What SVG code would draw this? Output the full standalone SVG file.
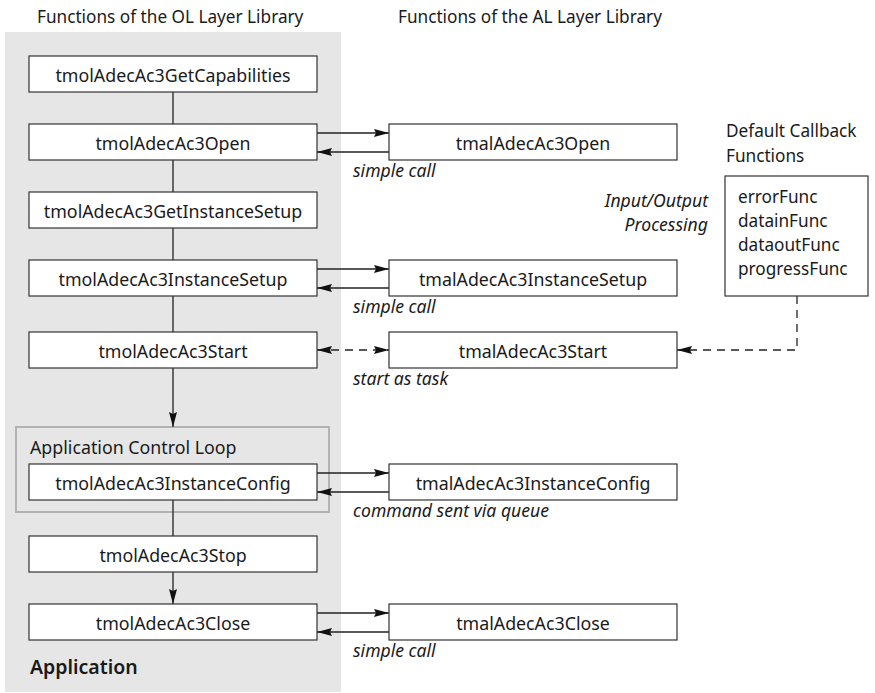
<svg xmlns="http://www.w3.org/2000/svg" width="875" height="693" viewBox="0 0 875 693">
  <style>
    text { font-family: "Noto Sans", "Liberation Sans", sans-serif; fill: #1a1a1a; }
    .hdr { font-size: 17.2px; }
    .lbl { font-size: 17.8px; text-anchor: middle; }
    .note { font-size: 17.6px; font-style: italic; }
    .cb { font-size: 17.2px; }
    .box { fill: #ffffff; stroke: #333333; stroke-width: 1.2; }
    .ln { fill: none; stroke: #222222; stroke-width: 1.3; }
    .dash { fill: none; stroke: #222222; stroke-width: 1.3; stroke-dasharray: 8 6; }
  </style>
  <defs>
    <marker id="ah" markerUnits="userSpaceOnUse" markerWidth="16" markerHeight="9" refX="15" refY="4" orient="auto-start-reverse">
      <path d="M0,0 L15,4 L0,8 L2,4 z" fill="#111111"/>
    </marker>
  </defs>

  <!-- application area -->
  <rect id="app-area" x="5" y="32" width="336" height="660" fill="#e6e6e6"/>
  <text class="hdr" x="37" y="22.5">Functions of the OL Layer Library</text>
  <text class="hdr" x="398" y="22.5">Functions of the AL Layer Library</text>
  <text x="30" y="674" style="font-size:19.5px;font-weight:600">Application</text>

  <!-- control loop frame -->
  <g id="control-loop">
    <rect x="16" y="427" width="313" height="85" fill="none" stroke="#b3b3b3" stroke-width="2"/>
    <text x="30" y="454" style="font-size:17.8px">Application Control Loop</text>
  </g>

  <!-- connectors -->
  <g id="connectors">
    <line class="ln" x1="173" y1="92" x2="173" y2="124"/>
    <line class="ln" x1="173" y1="160" x2="173" y2="192"/>
    <line class="ln" x1="173" y1="228" x2="173" y2="260"/>
    <line class="ln" x1="173" y1="296" x2="173" y2="332"/>
    <line class="ln" x1="173" y1="368" x2="173" y2="427" marker-end="url(#ah)"/>
    <line class="ln" x1="173" y1="500" x2="173" y2="536"/>
    <line class="ln" x1="173" y1="572" x2="173" y2="604" marker-end="url(#ah)"/>

    <line class="ln" x1="317" y1="133" x2="389" y2="133" marker-end="url(#ah)"/>
    <line class="ln" x1="389" y1="152" x2="317" y2="152" marker-end="url(#ah)"/>
    <line class="ln" x1="317" y1="269" x2="389" y2="269" marker-end="url(#ah)"/>
    <line class="ln" x1="389" y1="288" x2="317" y2="288" marker-end="url(#ah)"/>
    <line class="dash" x1="317" y1="350" x2="389" y2="350" marker-start="url(#ah)" marker-end="url(#ah)"/>
    <line class="ln" x1="317" y1="473" x2="389" y2="473" marker-end="url(#ah)"/>
    <line class="ln" x1="389" y1="492" x2="317" y2="492" marker-end="url(#ah)"/>
    <line class="ln" x1="317" y1="613" x2="389" y2="613" marker-end="url(#ah)"/>
    <line class="ln" x1="389" y1="632" x2="317" y2="632" marker-end="url(#ah)"/>

    <polyline class="dash" points="797,296 797,350 677,350" marker-end="url(#ah)"/>

    <text class="note" x="353" y="177">simple call</text>
    <text class="note" x="353" y="313">simple call</text>
    <text class="note" x="353" y="385">start as task</text>
    <text class="note" x="353" y="517">command sent via queue</text>
    <text class="note" x="353" y="657">simple call</text>
    <text class="note" x="708" y="207" text-anchor="end">Input/Output</text>
    <text class="note" x="708" y="231" text-anchor="end">Processing</text>
  </g>

  <!-- OL layer functions -->
  <g id="ol-getcapabilities"><rect class="box" x="29" y="56" width="288" height="36"/><text class="lbl" x="173" y="82">tmolAdecAc3GetCapabilities</text></g>
  <g id="ol-open"><rect class="box" x="29" y="124" width="288" height="36"/><text class="lbl" x="173" y="150">tmolAdecAc3Open</text></g>
  <g id="ol-getinstancesetup"><rect class="box" x="29" y="192" width="288" height="36"/><text class="lbl" x="173" y="218">tmolAdecAc3GetInstanceSetup</text></g>
  <g id="ol-instancesetup"><rect class="box" x="29" y="260" width="288" height="36"/><text class="lbl" x="173" y="286">tmolAdecAc3InstanceSetup</text></g>
  <g id="ol-start"><rect class="box" x="29" y="332" width="288" height="36"/><text class="lbl" x="173" y="358">tmolAdecAc3Start</text></g>
  <g id="ol-instanceconfig"><rect class="box" x="29" y="464" width="288" height="36"/><text class="lbl" x="173" y="490">tmolAdecAc3InstanceConfig</text></g>
  <g id="ol-stop"><rect class="box" x="29" y="536" width="288" height="36"/><text class="lbl" x="173" y="562">tmolAdecAc3Stop</text></g>
  <g id="ol-close"><rect class="box" x="29" y="604" width="288" height="36"/><text class="lbl" x="173" y="630">tmolAdecAc3Close</text></g>

  <!-- AL layer functions -->
  <g id="al-open"><rect class="box" x="389" y="124" width="288" height="36"/><text class="lbl" x="533" y="150">tmalAdecAc3Open</text></g>
  <g id="al-instancesetup"><rect class="box" x="389" y="260" width="288" height="36"/><text class="lbl" x="533" y="286">tmalAdecAc3InstanceSetup</text></g>
  <g id="al-start"><rect class="box" x="389" y="332" width="288" height="36"/><text class="lbl" x="533" y="358">tmalAdecAc3Start</text></g>
  <g id="al-instanceconfig"><rect class="box" x="389" y="464" width="288" height="36"/><text class="lbl" x="533" y="490">tmalAdecAc3InstanceConfig</text></g>
  <g id="al-close"><rect class="box" x="389" y="604" width="288" height="36"/><text class="lbl" x="533" y="630">tmalAdecAc3Close</text></g>

  <!-- default callbacks -->
  <g id="callbacks">
    <text class="cb" x="726" y="137">Default Callback</text>
    <text class="cb" x="726" y="162">Functions</text>
    <rect class="box" x="725" y="176" width="143" height="120"/>
    <text class="cb" x="738" y="203">errorFunc</text>
    <text class="cb" x="738" y="227">datainFunc</text>
    <text class="cb" x="738" y="251">dataoutFunc</text>
    <text class="cb" x="738" y="275">progressFunc</text>
  </g>
</svg>
